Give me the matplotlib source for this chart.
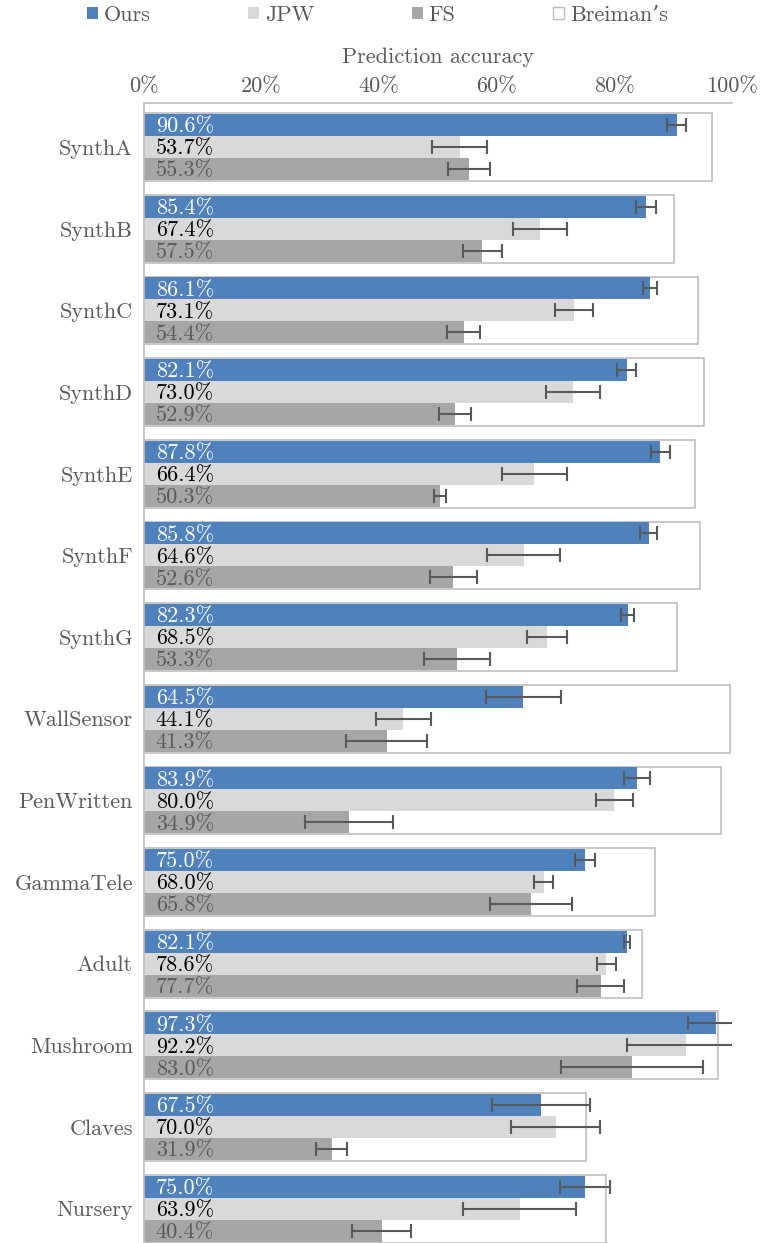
import numpy as np
import matplotlib
matplotlib.use('Agg')
import matplotlib.pyplot as plt
from matplotlib.patches import Patch

plt.rcParams['font.family'] = ['cmr10', 'DejaVu Serif']
plt.rcParams['axes.formatter.use_mathtext'] = True

datasets = ['SynthA', 'SynthB', 'SynthC', 'SynthD', 'SynthE', 'SynthF', 'SynthG',
            'WallSensor', 'PenWritten', 'GammaTele', 'Adult', 'Mushroom', 'Claves', 'Nursery']
ours = [90.6, 85.4, 86.1, 82.1, 87.8, 85.8, 82.3, 64.5, 83.9, 75.0, 82.1, 97.3, 67.5, 75.0]
jpw = [53.7, 67.4, 73.1, 73.0, 66.4, 64.6, 68.5, 44.1, 80.0, 68.0, 78.6, 92.2, 70.0, 63.9]
fs = [55.3, 57.5, 54.4, 52.9, 50.3, 52.6, 53.3, 41.3, 34.9, 65.8, 77.7, 83.0, 31.9, 40.4]
breiman = [96.6, 90.2, 94.2, 95.2, 93.7, 94.5, 90.6, 99.7, 98.1, 86.9, 84.7, 97.6, 75.1, 78.6]
ours_err = [1.6, 1.75, 1.2, 1.6, 1.6, 1.5, 1.1, 6.4, 2.2, 1.75, 0.55, 4.7, 8.4, 4.2]
jpw_err = [4.7, 4.6, 3.2, 4.6, 5.6, 6.2, 3.4, 4.7, 3.1, 1.6, 1.6, 10.1, 7.6, 9.6]
fs_err = [3.6, 3.3, 2.8, 2.7, 1.0, 4.0, 5.6, 6.9, 7.5, 7.0, 4.0, 12.0, 2.6, 5.0]

c_ours, c_jpw, c_fs = '#4f81bd', '#d9d9d9', '#a6a6a6'
gray = '#595959'
edge = '#bfbfbf'
fsize = 16

fig = plt.figure(figsize=(7.61, 12.43), dpi=100)
ax = fig.add_axes([144 / 761, 0, (732 - 144) / 761, 1 - 103 / 1243])

y = np.arange(len(datasets))
h = 0.27

ax.barh(y, breiman, height=0.83, color='white', edgecolor=edge, linewidth=1.2, zorder=1)
ax.barh(y - h, ours, height=h, color=c_ours, zorder=2)
ax.barh(y, jpw, height=h, color=c_jpw, zorder=2)
ax.barh(y + h, fs, height=h, color=c_fs, zorder=2)

for off, vals, errs in [(-h, ours, ours_err), (0, jpw, jpw_err), (h, fs, fs_err)]:
    ax.errorbar(vals, y + off, xerr=errs, fmt='none', ecolor=gray, elinewidth=1.5,
                capsize=5, capthick=1.5, zorder=3)

for i in range(len(datasets)):
    ax.text(2, y[i] - h + 0.02, f'{ours[i]:.1f}%', color='white', va='center', fontsize=fsize, zorder=4)
    ax.text(2, y[i] + 0.02, f'{jpw[i]:.1f}%', color='black', va='center', fontsize=fsize, zorder=4)
    ax.text(2, y[i] + h + 0.02, f'{fs[i]:.1f}%', color=gray, va='center', fontsize=fsize, zorder=4)

ax.set_xlim(0, 100)
ax.set_ylim(13.42, -0.54)
ax.set_yticks(y)
ax.set_yticklabels(datasets)
ax.set_xticks(np.arange(0, 101, 20))
ax.set_xticklabels([f'{v}%' for v in range(0, 101, 20)])
ax.get_xticklabels()[-1].set_horizontalalignment('right')
ax.xaxis.tick_top()
ax.xaxis.set_label_position('top')
ax.set_xlabel('Prediction accuracy', color=gray, fontsize=fsize, labelpad=10)
ax.tick_params(axis='both', length=0, labelsize=fsize, labelcolor=gray)
ax.tick_params(axis='x', pad=5)
ax.tick_params(axis='y', pad=8)

for s in ['right', 'bottom']:
    ax.spines[s].set_visible(False)
for s in ['top', 'left']:
    ax.spines[s].set_color(edge)
    ax.spines[s].set_linewidth(1.2)

handles = [Patch(facecolor=c_ours, label='Ours'),
           Patch(facecolor=c_jpw, label='JPW'),
           Patch(facecolor=c_fs, label='FS'),
           Patch(facecolor='white', edgecolor=edge, label='Breiman\u2019s')]
leg = fig.legend(handles=handles, loc='center', bbox_to_anchor=(0.496, 1 - 15 / 1243), ncol=4,
                 frameon=False, fontsize=fsize, handlelength=0.5, handleheight=0.5,
                 handletextpad=0.25, columnspacing=4.4, labelcolor=gray)

fig.savefig('out.png', dpi=100)
